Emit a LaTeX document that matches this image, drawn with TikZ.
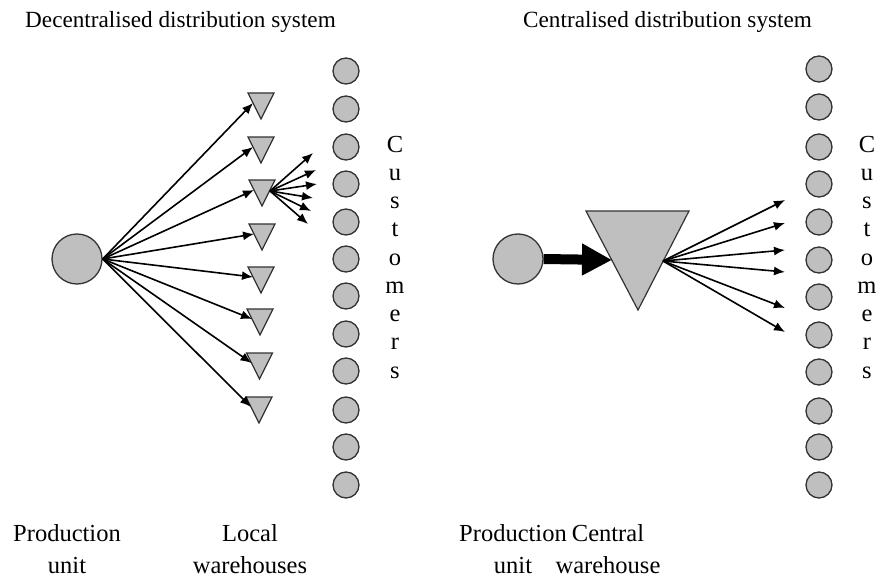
\documentclass[tikz,border=0pt]{standalone}
\usepackage{fontspec}
\setmainfont{Liberation Serif}
\usetikzlibrary{arrows.meta}
\begin{document}
\begin{tikzpicture}[x=1pt,y=-1pt,
  every node/.style={font=\fontsize{24.5}{29}\selectfont,inner sep=0pt},
  headline/.style={anchor=base west,font=\fontsize{23.2}{28}\selectfont},
  disc/.style={circle,draw=black!80,fill=black!25,line width=1.3pt,minimum size=#1},
  tri/.style={draw=black!80,fill=black!25,line width=1.2pt,line join=miter},
  arr/.style={line width=1.6pt,-{Latex[length=11pt,width=9pt]}},
  label/.style={anchor=base}]
\useasboundingbox (0,0) rectangle (879,578);

% titles
\node[headline] (t1) at (25,28) {Decentralised distribution system};
\node[headline] (t2) at (523,28) {Centralised distribution system};

% ---------- decentralised system ----------
\node[disc=50pt] (pl) at (77,259) {};

% local warehouses
\foreach \k/\cx/\ty in {1/261/93,2/261/137,3/262/180,4/262/224,5/261/267,6/260/309,7/259.5/353,8/259/397}{
  \draw[tri] (\cx-13,\ty) -- (\cx+13,\ty) -- (\cx,\ty+26) -- cycle;
  \coordinate (w\k) at (\cx-8,\ty+10);
}
\foreach \k in {1,...,8}{ \draw[arr] (pl.east) -- (w\k); }

% deliveries from one local warehouse
\coordinate (wo) at (270,191);
\foreach \k/\ex/\ey in {1/313/153,2/316/170,3/317/184,4/313/198,5/311/211,6/308/224}{
  \coordinate (d\k) at (\ex,\ey);
  \draw[arr] (wo) -- (d\k);
}

% customers
\foreach \y [count=\k] in {71,109,147,184,222,259,296,334,371,410,447,485}{
  \node[disc=26pt] (cl\k) at (346,\y) {};
}
\foreach \l [count=\k from 0] in {C,u,s,t,o,m,e,r,s}{
  \node[label] (ll\k) at (395,152+28.25*\k) {\l};
}

\node[label] (pu1) at (67,541) {Production};
\node[label] (pu2) at (67,573) {unit};
\node[label] (lw1) at (250,541) {Local};
\node[label] (lw2) at (250,573) {warehouses};

% ---------- centralised system ----------
\node[disc=50pt] (pr) at (518,259) {};
\draw[tri] (586,211) -- (689,211) -- (638,310) -- cycle;
\coordinate (cw) at (612,260);
\coordinate (co) at (663,261);
\draw[line width=10pt,-{Triangle[length=30pt,width=30pt]}] (pr.east) -- (cw);
\foreach \k/\ey in {1/200,2/223,3/250,4/272,5/308,6/332}{
  \coordinate (e\k) at (785,\ey);
  \draw[arr] (co) -- (e\k);
}

\foreach \y [count=\k] in {69,107,147,184,222,260,297,335,372,411,447,485}{
  \node[disc=26pt] (cr\k) at (819,\y) {};
}
\foreach \l [count=\k from 0] in {C,u,s,t,o,m,e,r,s}{
  \node[label] (lr\k) at (867,152+28.25*\k) {\l};
}

\node[label] (pv1) at (513,541) {Production};
\node[label] (pv2) at (513,573) {unit};
\node[label] (cv1) at (608,541) {Central};
\node[label] (cv2) at (608,573) {warehouse};
\end{tikzpicture}
\end{document}
